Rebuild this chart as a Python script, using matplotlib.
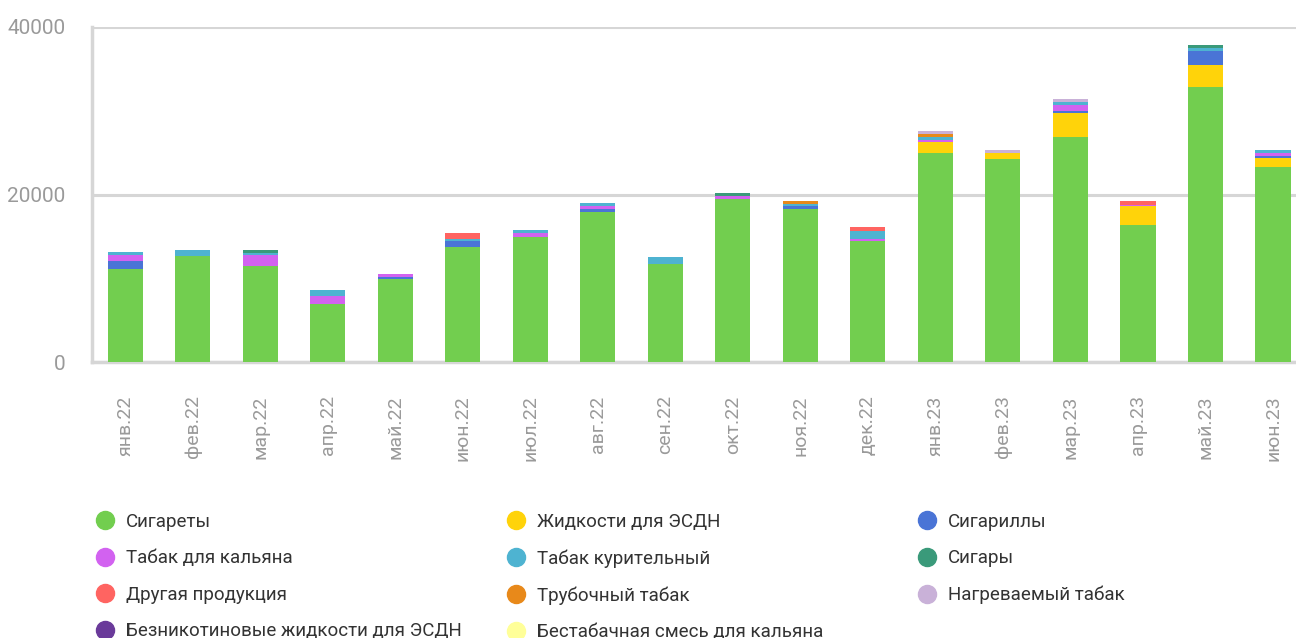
import numpy as np
import matplotlib
matplotlib.use("Agg")
from matplotlib import pyplot as plt
from matplotlib.lines import Line2D

plt.rcParams['font.family'] = ['Roboto', 'DejaVu Sans']

months = ["янв.22", "фев.22", "мар.22", "апр.22", "май.22", "июн.22", "июл.22", "авг.22", "сен.22",
          "окт.22", "ноя.22", "дек.22", "янв.23", "фев.23", "мар.23", "апр.23", "май.23", "июн.23"]

# stacked from bottom to top, in legend order
cigarettes = [11100, 12700, 11500, 6960, 9910, 13680, 14960, 17880, 11760,
              19520, 18240, 14400, 24960, 24240, 26880, 16320, 32880, 23280]
esdn_liquids = [0, 0, 0, 0, 0, 0, 0, 0, 0, 0, 0, 0, 1320, 720, 2880, 2280, 2640, 1080]
cigarillos = [950, 0, 0, 0, 240, 720, 0, 360, 0, 0, 400, 0, 0, 0, 240, 0, 1560, 240]
hookah = [700, 0, 1270, 955, 360, 0, 400, 360, 0, 280, 0, 240, 240, 0, 720, 200, 0, 360]
smoking_tobacco = [360, 680, 240, 680, 0, 240, 360, 360, 720, 0, 200, 1040, 360, 0, 360, 0, 360, 360]
cigars = [0, 0, 360, 0, 0, 0, 0, 0, 0, 360, 0, 0, 0, 0, 0, 0, 360, 0]
other = [0, 0, 0, 0, 0, 720, 0, 0, 0, 0, 0, 400, 0, 0, 0, 400, 0, 0]
pipe = [0, 0, 0, 0, 0, 0, 0, 0, 0, 0, 360, 0, 360, 0, 0, 0, 0, 0]
heated = [0, 0, 0, 0, 0, 0, 0, 0, 0, 0, 0, 0, 360, 360, 360, 0, 0, 0]
nonicotine = [0] * 18
tobaccofree = [0] * 18

series = [
    ("Сигареты", cigarettes, "#72CE4F"),
    ("Жидкости для ЭСДН", esdn_liquids, "#FFD30A"),
    ("Сигариллы", cigarillos, "#4A74D6"),
    ("Табак для кальяна", hookah, "#D262F0"),
    ("Табак курительный", smoking_tobacco, "#4EB3D1"),
    ("Сигары", cigars, "#3A9A7A"),
    ("Другая продукция", other, "#FF6461"),
    ("Трубочный табак", pipe, "#E8891A"),
    ("Нагреваемый табак", heated, "#C9B1D8"),
    ("Безникотиновые жидкости для ЭСДН", nonicotine, "#6A3A9A"),
    ("Бестабачная смесь для кальяна", tobaccofree, "#FFFF99"),
]

fig = plt.figure(figsize=(12.96, 6.38), dpi=100)
ax = fig.add_axes([92/1296, 1-362/638, 1-92/1296, (362-27)/638])

x = np.arange(len(months))
bottom = np.zeros(len(months))
for name, vals, col in series:
    vals = np.array(vals, dtype=float)
    ax.bar(x, vals, bottom=bottom, width=0.52, color=col, zorder=3, linewidth=0)
    bottom += vals

ax.set_ylim(0, 40000)
ax.set_xlim(-0.49, 17.34)
ax.set_yticks([0, 20000, 40000])
ax.set_yticklabels(["0", "20000", "40000"])
ax.set_xticks(x)
ax.set_xticklabels(months, rotation=90)
ax.tick_params(axis='both', length=0, colors='#9A9A9A')
ax.tick_params(axis='y', pad=19, labelsize=15)
ax.tick_params(axis='x', pad=24, labelsize=14)
ax.grid(axis='y', color='#D6D6D6', linewidth=2.2, zorder=0)
for s in ['top', 'right']:
    ax.spines[s].set_visible(False)
for s in ['left', 'bottom']:
    ax.spines[s].set_color('#D6D6D6')
    ax.spines[s].set_linewidth(2.5)

# legend: three columns placed side by side
handles = [Line2D([], [], marker='o', linestyle='', markersize=13,
                  markerfacecolor=c, markeredgecolor=c, label=n) for n, v, c in series]
cols = [[0, 3, 6, 9], [1, 4, 7, 10], [2, 5, 8]]
xs = [97, 508, 919]
for xi, idx in zip(xs, cols):
    leg = fig.legend(handles=[handles[i] for i in idx], loc='upper left',
                     bbox_to_anchor=(xi/1296, 1-513/638), frameon=False,
                     fontsize=13.5, labelspacing=0.98, handlelength=0.9,
                     handletextpad=0.65, borderpad=0, borderaxespad=0)
    for t in leg.get_texts():
        t.set_color('#333333')

fig.savefig("out.png", dpi=100)
